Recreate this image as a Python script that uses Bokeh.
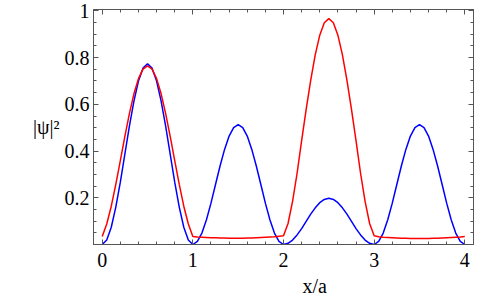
from bokeh.plotting import figure
from bokeh.models import FixedTicker, LinearAxis, Range1d, ColumnDataSource, Title
from bokeh.embed import file_html
from bokeh.resources import INLINE

x_vals = [0.00, 0.05, 0.10, 0.15, 0.20, 0.25, 0.30, 0.35, 0.40, 0.45,
          0.50, 0.55, 0.60, 0.65, 0.70, 0.75, 0.80, 0.85, 0.90, 0.95,
          1.00, 1.05, 1.10, 1.15, 1.20, 1.25, 1.30, 1.35, 1.40, 1.45,
          1.50, 1.55, 1.60, 1.65, 1.70, 1.75, 1.80, 1.85, 1.90, 1.95,
          2.00, 2.05, 2.10, 2.15, 2.20, 2.25, 2.30, 2.35, 2.40, 2.45,
          2.50, 2.55, 2.60, 2.65, 2.70, 2.75, 2.80, 2.85, 2.90, 2.95,
          3.00, 3.05, 3.10, 3.15, 3.20, 3.25, 3.30, 3.35, 3.40, 3.45,
          3.50, 3.55, 3.60, 3.65, 3.70, 3.75, 3.80, 3.85, 3.90, 3.95,
          4.00]

blue_vals = [0.000, 0.019, 0.074, 0.160, 0.267, 0.387, 0.507, 0.614, 0.700, 0.755,
             0.774, 0.755, 0.700, 0.614, 0.507, 0.387, 0.267, 0.160, 0.074, 0.019,
             0.000, 0.013, 0.049, 0.106, 0.177, 0.257, 0.336, 0.407, 0.464, 0.500,
             0.513, 0.500, 0.464, 0.407, 0.336, 0.257, 0.177, 0.106, 0.049, 0.013,
             0.000, 0.005, 0.019, 0.041, 0.068, 0.099, 0.130, 0.157, 0.179, 0.193,
             0.198, 0.193, 0.179, 0.157, 0.130, 0.099, 0.068, 0.041, 0.019, 0.005,
             0.000, 0.013, 0.049, 0.106, 0.177, 0.257, 0.336, 0.407, 0.464, 0.500,
             0.513, 0.500, 0.464, 0.407, 0.336, 0.257, 0.177, 0.106, 0.049, 0.013,
             0.000]

red_vals = [0.034, 0.088, 0.164, 0.257, 0.359, 0.463, 0.560, 0.645, 0.710, 0.751,
            0.765, 0.751, 0.710, 0.645, 0.560, 0.463, 0.359, 0.257, 0.164, 0.088,
            0.034, 0.032, 0.031, 0.030, 0.029, 0.029, 0.028, 0.028, 0.027, 0.027,
            0.027, 0.027, 0.028, 0.028, 0.029, 0.030, 0.031, 0.032, 0.033, 0.035,
            0.037, 0.090, 0.185, 0.305, 0.445, 0.578, 0.703, 0.812, 0.896, 0.949,
            0.967, 0.949, 0.896, 0.812, 0.703, 0.578, 0.445, 0.305, 0.185, 0.090,
            0.037, 0.033, 0.031, 0.030, 0.029, 0.028, 0.027, 0.027, 0.026, 0.026,
            0.026, 0.026, 0.026, 0.027, 0.027, 0.028, 0.029, 0.030, 0.031, 0.032,
            0.034]

x_ticks = [0, 1, 2, 3, 4]
x_tick_labels = ["0", "1", "2", "3", "4"]
x_minor = [i / 5 for i in range(0, 21)]
y_ticks = [0.2, 0.4, 0.6, 0.8, 1.0]
y_tick_labels = ["0.2", "0.4", "0.6", "0.8", "1"]
y_minor = [i / 20 for i in range(0, 21)]

FONT = "Liberation Serif"
FRAME = "#555555"

source = ColumnDataSource(data=dict(x=x_vals, blue=blue_vals, red=red_vals))

p = figure(width=491, height=300, output_backend="svg", toolbar_location=None,
           x_range=Range1d(-0.096, 4.096), y_range=Range1d(0, 1.006),
           x_axis_location=None, y_axis_location=None,
           min_border_left=93, min_border_right=18, min_border_top=9,
           min_border_bottom=56)
p.background_fill_color = "white"
p.border_fill_color = "white"
p.outline_line_color = FRAME
p.xgrid.visible = False
p.ygrid.visible = False

p.line("x", "blue", source=source, line_color="#0000ff", line_width=1.5)
p.line("x", "red", source=source, line_color="#ff0000", line_width=1.5)


def style(ax, labels):
    ax.axis_line_color = FRAME
    ax.major_tick_line_color = FRAME
    ax.minor_tick_line_color = FRAME
    ax.major_tick_in = 5
    ax.major_tick_out = 0
    ax.minor_tick_in = 3
    ax.minor_tick_out = 0
    ax.major_label_text_font = FONT
    ax.major_label_text_color = "black"
    if labels:
        ax.major_label_text_font_size = "20px"
    else:
        ax.major_label_text_font_size = "0px"
        ax.major_label_text_color = None
        ax.major_label_standoff = 0


xt = FixedTicker(ticks=x_ticks, minor_ticks=x_minor)
yt = FixedTicker(ticks=y_ticks, minor_ticks=y_minor)

xb = LinearAxis(ticker=xt)
style(xb, True)
xb.major_label_standoff = 8
xb.major_label_overrides = dict(zip(x_ticks, x_tick_labels))
p.add_layout(xb, "below")

xa = LinearAxis(ticker=xt)
style(xa, False)
p.add_layout(xa, "above")

yl = LinearAxis(ticker=yt)
style(yl, True)
yl.major_label_standoff = 4
yl.major_label_overrides = dict(zip(y_ticks, y_tick_labels))
yl.axis_label = "|ψ|²"
yl.axis_label_orientation = "horizontal"
yl.axis_label_text_font = FONT
yl.axis_label_text_font_size = "20px"
yl.axis_label_text_font_style = "normal"
yl.axis_label_text_color = "black"
yl.axis_label_standoff = 2
p.add_layout(yl, "left")

yr = LinearAxis(ticker=yt)
style(yr, False)
p.add_layout(yr, "right")

xlabel = Title(text="x/a", align="left", offset=209, standoff=6,
               text_font=FONT, text_font_size="20px",
               text_font_style="normal", text_color="black")
p.add_layout(xlabel, "below")

open("out.html", "w").write(file_html(p, INLINE))
